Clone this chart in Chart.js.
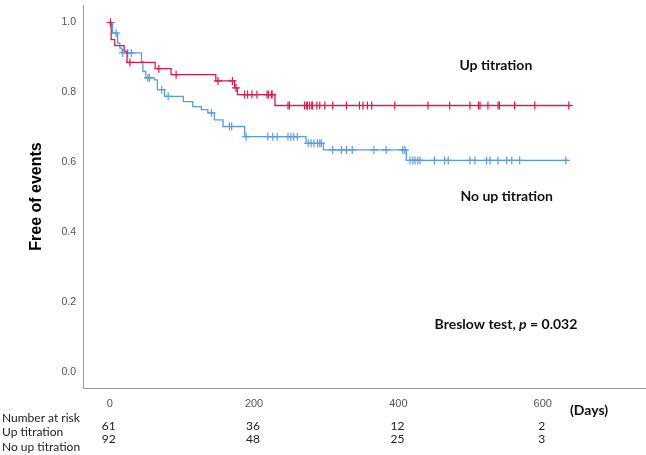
<!DOCTYPE html>
<html>
<head>
<meta charset="utf-8">
<script src="https://cdn.jsdelivr.net/npm/chart.js@4.4.1/dist/chart.umd.min.js"></script>
<style>
  body { margin: 0; background: #fff; }
  #wrap { width: 646px; height: 455px; }
</style>
</head>
<body>
<div id="wrap"><canvas id="myChart" width="646" height="455"></canvas></div>
<script>
// Up titration (red) - event times (days) and survival after each step
const upTimes = [0, 2, 7, 20, 24, 63, 85, 147, 173, 177, 229, 640];
const upSurv = [1.0, 0.951, 0.934, 0.918, 0.886, 0.868, 0.851, 0.833, 0.813, 0.794, 0.763, 0.763];
const upCensor = [1, 28, 68, 92, 150, 170, 175, 187, 191, 197, 204, 218, 220, 224, 225, 247, 249, 270, 273, 274, 277, 280, 281, 287, 291, 298, 309, 328, 346, 351, 357, 363, 395, 441, 471, 499, 511, 513, 524, 538, 540, 561, 589, 636];

// No up titration (blue)
const noTimes = [0, 4, 11, 14, 17, 44, 46, 50, 62, 66, 76, 102, 115, 127, 136, 145, 157, 187, 272, 296, 411, 635];
const noSurv = [1.0, 0.970, 0.941, 0.927, 0.913, 0.889, 0.860, 0.842, 0.836, 0.808, 0.789, 0.774, 0.760, 0.751, 0.742, 0.722, 0.703, 0.674, 0.655, 0.636, 0.606, 0.606];
const noCensor = [9, 18, 25, 30, 53, 55, 72, 81, 141, 166, 169, 189, 219, 226, 232, 247, 251, 255, 260, 275, 279, 283, 288, 291, 293, 309, 321, 328, 336, 366, 383, 406, 409, 416, 420, 423, 427, 430, 450, 464, 469, 499, 506, 522, 527, 538, 550, 557, 568, 632];

const xTicks = [0, 200, 400, 600];
const yTicks = [0, 0.2, 0.4, 0.6, 0.8, 1.0];

// number at risk table
const riskLabels = ['Number at risk', 'Up titration', 'No up titration'];
const riskUp = [61, 36, 12, 2];
const riskNo = [92, 48, 25, 3];

const redColor = '#d91c4c';
const blueColor = '#5a9be6';

function survAt(times, surv, t) {
    let s = surv[0];
    for (let i = 0; i < times.length; i++) {
        if (times[i] <= t) s = surv[i];
    }
    return s;
}

function curvePoints(times, surv) {
    return times.map((t, i) => ({ x: t, y: surv[i] }));
}

function censorPoints(cens, times, surv) {
    return cens.map(t => ({ x: t, y: survAt(times, surv, t) }));
}

// drop the edge padding chart.js reserves for end labels
function noPad(s) {
    s.paddingTop = 0;
    s.paddingBottom = 0;
    s.paddingLeft = 0;
    s.paddingRight = 0;
}

const textPlugin = {
    id: 'kmText',
    afterDraw(chart) {
        const ctx = chart.ctx;
        const x = chart.scales.x;
        const y = chart.scales.y;
        ctx.save();
        ctx.fillStyle = '#111';
        ctx.textAlign = 'center';
        ctx.textBaseline = 'middle';
        ctx.font = 'bold 14px Lato';
        ctx.fillText('Up titration', x.getPixelForValue(535), y.getPixelForValue(0.876));
        ctx.fillText('No up titration', x.getPixelForValue(550), y.getPixelForValue(0.502));

        // Breslow test line with italic p
        const parts = [['Breslow test, ', 'bold 14px Lato'], ['p', 'italic bold 14px Lato'], [' = 0.032', 'bold 14px Lato']];
        let total = 0;
        parts.forEach(p => { ctx.font = p[1]; total += ctx.measureText(p[0]).width; });
        let bx = x.getPixelForValue(549) - total / 2;
        const by = y.getPixelForValue(0.136);
        ctx.textAlign = 'left';
        parts.forEach(p => {
            ctx.font = p[1];
            ctx.fillText(p[0], bx, by);
            bx += ctx.measureText(p[0]).width;
        });

        ctx.font = 'bold 14px Lato';
        ctx.fillText('(Days)', 570, 410);

        // number at risk
        ctx.font = '12px Lato';
        ctx.fillStyle = '#222';
        ctx.fillText(riskLabels[0], 2, 418);
        ctx.fillText(riskLabels[1], 2, 432);
        ctx.fillText(riskLabels[2], 2, 447);
        ctx.textAlign = 'center';
        xTicks.forEach((t, i) => {
            const px = x.getPixelForValue(t);
            ctx.fillText(String(riskUp[i]), px - 1, 426);
            ctx.fillText(String(riskNo[i]), px - 1, 439);
        });
        ctx.restore();
    }
};

const ctx = document.getElementById('myChart').getContext('2d');
new Chart(ctx, {
    type: 'line',
    data: {
        datasets: [
            {
                label: 'Up titration',
                data: curvePoints(upTimes, upSurv),
                borderColor: redColor,
                borderWidth: 1.3,
                stepped: true,
                pointRadius: 0,
                fill: false
            },
            {
                label: 'No up titration',
                data: curvePoints(noTimes, noSurv),
                borderColor: blueColor,
                borderWidth: 1.3,
                stepped: true,
                pointRadius: 0,
                fill: false
            },
            {
                label: 'Up titration censored',
                data: censorPoints(upCensor, upTimes, upSurv),
                showLine: false,
                pointStyle: 'cross',
                pointRadius: 4,
                borderColor: redColor,
                borderWidth: 1.2
            },
            {
                label: 'No up titration censored',
                data: censorPoints(noCensor, noTimes, noSurv),
                showLine: false,
                pointStyle: 'cross',
                pointRadius: 4,
                borderColor: blueColor,
                borderWidth: 1.2
            }
        ]
    },
    options: {
        responsive: false,
        animation: false,
        layout: { autoPadding: false, padding: { top: 5, left: 0, right: 0, bottom: 0 } },
        plugins: {
            legend: { display: false },
            tooltip: { enabled: false }
        },
        scales: {
            x: {
                type: 'linear',
                min: -37,
                max: 743,
                grid: { display: false, drawTicks: false },
                border: { display: true, color: '#999', width: 1 },
                afterFit: s => { s.height = 67; noPad(s); },
                afterBuildTicks: s => { s.ticks = xTicks.map(v => ({ value: v })); },
                ticks: {
                    padding: 9,
                    color: '#555',
                    font: { family: 'Liberation Sans', size: 11 },
                    maxRotation: 0
                }
            },
            y: {
                type: 'linear',
                min: -0.044,
                max: 1.05,
                grid: { display: false, drawTicks: false },
                border: { display: true, color: '#999', width: 1 },
                afterFit: s => { s.width = 83; noPad(s); },
                afterBuildTicks: s => { s.ticks = yTicks.map(v => ({ value: v })); },
                ticks: {
                    padding: 7,
                    color: '#555',
                    font: { family: 'Liberation Sans', size: 10.5 },
                    callback: v => v.toFixed(1)
                },
                title: {
                    display: true,
                    text: 'Free of events',
                    color: '#000',
                    font: { family: 'Liberation Sans', size: 16, weight: 'bold' },
                    padding: { top: 27, bottom: 0 }
                }
            }
        }
    },
    plugins: [textPlugin]
});
</script>
</body>
</html>
